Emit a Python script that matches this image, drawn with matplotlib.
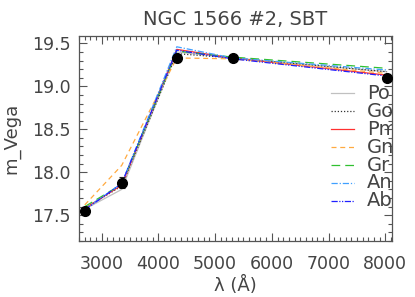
import matplotlib
matplotlib.use("Agg")
import matplotlib.pyplot as plt
from matplotlib.ticker import MultipleLocator

# Data
wave = [2704, 3355, 4325, 5308, 8024]
obs_mag = [17.55, 17.88, 19.33, 19.33, 19.10]
obs_err = [0.05, 0.06, 0.05, 0.03, 0.04]

model_names = ["Po", "Go", "Pm", "Gn", "Gr", "An", "Ab"]
mag_Po = [17.57, 17.80, 19.40, 19.33, 19.17]
mag_Go = [17.58, 17.84, 19.38, 19.33, 19.17]
mag_Pm = [17.58, 17.85, 19.43, 19.33, 19.13]
mag_Gn = [17.62, 18.08, 19.33, 19.32, 19.15]
mag_Gr = [17.60, 17.86, 19.41, 19.34, 19.21]
mag_An = [17.57, 17.87, 19.46, 19.33, 19.19]
mag_Ab = [17.56, 17.87, 19.42, 19.32, 19.12]
model_mags = [mag_Po, mag_Go, mag_Pm, mag_Gn, mag_Gr, mag_An, mag_Ab]

colors = ["#c0c0c0", "#333333", "#ff3030", "#ffaa40", "#30c030", "#40a0ff", "#2020ff"]
styles = ["-", (0, (1, 1.5)), "-", (0, (4, 3)), (0, (7, 4)), (0, (5, 1.5, 1, 1.5)),
          (0, (5, 1.2, 1, 1.2, 1, 1.2))]

txt = "#444444"
plt.rcParams['font.family'] = ['DejaVu Sans']

fig = plt.figure(figsize=(4.15, 2.97), dpi=100)
ax = fig.add_axes([0.190, 0.1886, 0.755, 0.690])

for name, m, c, ls in zip(model_names, model_mags, colors, styles):
    ax.plot(wave, m, color=c, linestyle=ls, lw=0.9, label=name)

ax.errorbar(wave, obs_mag, yerr=obs_err, fmt='o', color='black', ms=7,
            ecolor='#222222', elinewidth=0.8, capsize=2.5, capthick=0.8, zorder=10)

ax.set_xlim(2600, 8120)
ax.set_ylim(17.2, 19.585)
ax.xaxis.set_major_locator(MultipleLocator(1000))
ax.xaxis.set_minor_locator(MultipleLocator(100))
ax.yaxis.set_major_locator(MultipleLocator(0.5))
ax.yaxis.set_minor_locator(MultipleLocator(0.1))
ax.yaxis.set_major_formatter(matplotlib.ticker.FormatStrFormatter('%.1f'))
ax.tick_params(which='both', direction='in', top=True, right=True, colors='#555555',
               labelcolor=txt, labelsize=12.5, width=0.8)
ax.tick_params(which='major', length=6)
ax.tick_params(axis='x', which='major', pad=10)
ax.tick_params(axis='y', which='major', pad=6)
ax.tick_params(which='minor', length=3)
for s in ax.spines.values():
    s.set_color('#555555')
    s.set_linewidth(0.9)

ax.set_title("NGC 1566 #2, SBT", color=txt, fontsize=14, pad=8)
ax.set_xlabel("λ (Å)", color=txt, fontsize=13, labelpad=2)
ax.set_ylabel("m_Vega", color=txt, fontsize=13, labelpad=8)

# Legend (text clipped at the right axis edge in the reference)
y0 = 18.92
dy = 0.209
for i, (name, c, ls) in enumerate(zip(model_names, colors, styles)):
    yy = y0 - i * dy
    ax.plot([7050, 7440], [yy, yy], color=c, linestyle=ls, lw=0.9)
    ax.text(7670, yy, name, color=txt, fontsize=14, va='center', ha='left',
            clip_on=True)

fig.savefig("out.png", dpi=100)
